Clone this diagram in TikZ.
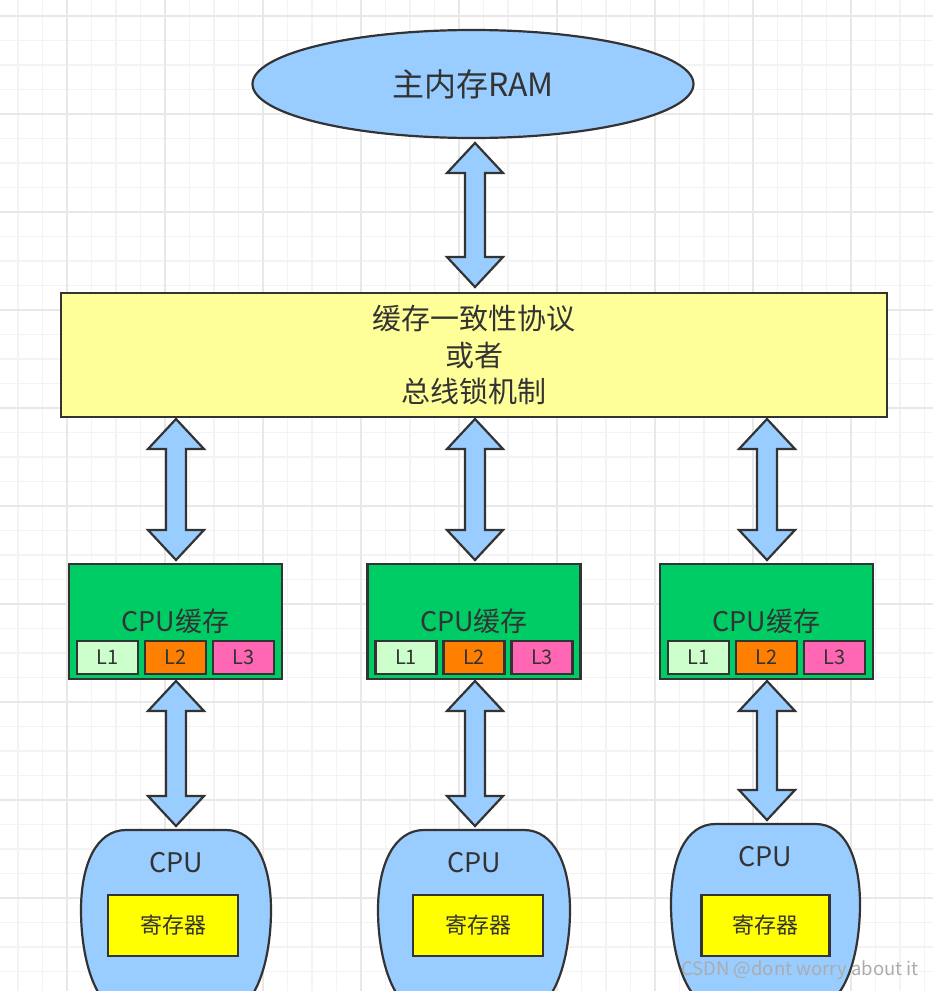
\documentclass[tikz,border=0pt]{standalone}
\usepackage{fontspec}
\setmainfont{Noto Sans CJK SC}
\usetikzlibrary{positioning,calc,shapes.geometric}

\definecolor{linec}{HTML}{333333}
\definecolor{textc}{HTML}{333333}
\definecolor{gridminor}{HTML}{F3F3F3}
\definecolor{gridmajor}{HTML}{E8E8E8}
\definecolor{ramblue}{HTML}{99CCFF}
\definecolor{protoyellow}{HTML}{FFFF99}
\definecolor{cachegreen}{HTML}{00CC66}
\definecolor{lone}{HTML}{CCFFCC}
\definecolor{ltwo}{HTML}{FF8000}
\definecolor{lthree}{HTML}{FF66B3}
\definecolor{regyellow}{HTML}{FFFF00}

\begin{document}
\begin{tikzpicture}[
	x=1pt, y=-1pt,
	gridline/.style={draw=gridminor, line width=1.2pt},
	gridbold/.style={draw=gridmajor, line width=1.4pt},
	ramnode/.style={ellipse, draw=linec, line width=2.2pt, fill=ramblue, inner sep=0pt, outer sep=0pt,
		minimum width=441pt, minimum height=108pt, text=textc, font=\fontsize{32}{38}\selectfont},
	protonode/.style={rectangle, draw=linec, line width=2.5pt, fill=protoyellow, outer sep=0pt,
		minimum width=826pt, minimum height=124pt, align=center, text=textc, font=\fontsize{29}{36.5}\selectfont},
	cachenode/.style={rectangle, draw=linec, line width=2.5pt, fill=cachegreen, outer sep=0pt,
		minimum width=213pt, minimum height=115pt, text=textc, font=\fontsize{27}{30}\selectfont},
	levelnode/.style={rectangle, draw=linec, line width=2.5pt, outer sep=0pt, inner sep=0pt,
		minimum width=61pt, minimum height=33pt, text=textc, font=\fontsize{20}{24}\selectfont},
	cpunode/.style={rectangle, draw=none, inner sep=0pt, outer sep=0pt, minimum width=190pt, minimum height=190pt},
	blob/.style={draw=linec, line width=2.2pt, fill=ramblue},
	cpulabel/.style={text=textc, inner sep=0pt, font=\fontsize{27}{32}\selectfont},
	regnode/.style={rectangle, draw=linec, line width=2.5pt, fill=regyellow, outer sep=0pt,
		minimum width=130pt, minimum height=61pt, text=textc, font=\fontsize{22}{25}\selectfont},
	fatarrow/.style={draw=linec, fill=ramblue, line width=2.2pt, line join=miter,
		to path={let \p1=(\tikztostart), \p2=(\tikztotarget) in
			(\x1,\y1) -- (\x1+28pt,\y1-30pt) -- (\x1+10pt,\y1-30pt) -- (\x1+10pt,\y2+30pt) -- (\x1+28pt,\y2+30pt)
			-- (\x1,\y2) -- (\x1-28pt,\y2+30pt) -- (\x1-10pt,\y2+30pt) -- (\x1-10pt,\y1-30pt) -- (\x1-28pt,\y1-30pt) -- cycle}},
	]
	\useasboundingbox (0,0) rectangle (933,991);
	\clip (0,0) rectangle (933,991);
	\fill[white] (0,0) rectangle (933,991);

	%Grid
	\foreach \gx in {18,42.5,...,933} {\draw[gridline] (\gx,0) -- (\gx,991);}
	\foreach \gy in {16,40.5,...,991} {\draw[gridline] (0,\gy) -- (933,\gy);}
	\foreach \gx in {67,165,...,933} {\draw[gridbold] (\gx,0) -- (\gx,991);}
	\foreach \gy in {16,114,...,991} {\draw[gridbold] (0,\gy) -- (933,\gy);}

	%Nodes
	\node[ramnode]      (ram)       at (473,84)      {主内存RAM};
	\node[protonode]    (proto)     at (474,355)     {缓存一致性协议\\或者\\总线锁机制};

	\node[cachenode]    (cache1)    at (175.5,621.5) {CPU缓存};
	\node[cachenode]    (cache2)    at (474,621.5)   {CPU缓存};
	\node[cachenode]    (cache3)    at (766.5,621.5) {CPU缓存};

	\node[levelnode, fill=ltwo, above=5pt of cache1.south]   (c1l2) {L2};
	\node[levelnode, fill=lone, left=7pt of c1l2]            (c1l1) {L1};
	\node[levelnode, fill=lthree, right=7pt of c1l2]         (c1l3) {L3};
	\node[levelnode, fill=ltwo, above=5pt of cache2.south]   (c2l2) {L2};
	\node[levelnode, fill=lone, left=7pt of c2l2]            (c2l1) {L1};
	\node[levelnode, fill=lthree, right=7pt of c2l2]         (c2l3) {L3};
	\node[levelnode, fill=ltwo, above=5pt of cache3.south]   (c3l2) {L2};
	\node[levelnode, fill=lone, left=7pt of c3l2]            (c3l1) {L1};
	\node[levelnode, fill=lthree, right=7pt of c3l2]         (c3l3) {L3};

	\node[cpunode]      (cpu1)      at (176,925)     {};
	\node[cpunode, minimum width=192pt] (cpu2) at (474,925) {};
	\node[cpunode, minimum width=189pt] (cpu3) at (765.5,919) {};

	%CPU bodies
	\draw[blob] ($(cpu1.north)+(-50,0)$) -- ($(cpu1.north)+(50,0)$) .. controls +(30,0) and +(0,-45) .. ($(cpu1.north east)+(0,80)$)
		.. controls +(0,50) and +(35,0) .. ($(cpu1.north)+(45,185)$) -- ($(cpu1.north)+(-45,185)$)
		.. controls +(-35,0) and +(0,50) .. ($(cpu1.north west)+(0,80)$)
		.. controls +(0,-45) and +(-30,0) .. ($(cpu1.north)+(-50,0)$) -- cycle;
	\draw[blob] ($(cpu2.north)+(-50,0)$) -- ($(cpu2.north)+(50,0)$) .. controls +(30,0) and +(0,-45) .. ($(cpu2.north east)+(0,80)$)
		.. controls +(0,50) and +(35,0) .. ($(cpu2.north)+(45,185)$) -- ($(cpu2.north)+(-45,185)$)
		.. controls +(-35,0) and +(0,50) .. ($(cpu2.north west)+(0,80)$)
		.. controls +(0,-45) and +(-30,0) .. ($(cpu2.north)+(-50,0)$) -- cycle;
	\draw[blob] ($(cpu3.north)+(-50,0)$) -- ($(cpu3.north)+(50,0)$) .. controls +(30,0) and +(0,-45) .. ($(cpu3.north east)+(0,80)$)
		.. controls +(0,50) and +(35,0) .. ($(cpu3.north)+(45,185)$) -- ($(cpu3.north)+(-45,185)$)
		.. controls +(-35,0) and +(0,50) .. ($(cpu3.north west)+(0,80)$)
		.. controls +(0,-45) and +(-30,0) .. ($(cpu3.north)+(-50,0)$) -- cycle;

	\node[cpulabel]     (cpu1text)  at ($(cpu1.north)+(0,33)$)    {CPU};
	\node[cpulabel]     (cpu2text)  at ($(cpu2.north)+(0,33)$)    {CPU};
	\node[cpulabel]     (cpu3text)  at ($(cpu3.north)+(0,33)$)    {CPU};
	\node[regnode]      (reg1)      at ($(cpu1.north)+(-3,95.5)$) {寄存器};
	\node[regnode]      (reg2)      at ($(cpu2.north)+(4,95.5)$)  {寄存器};
	\node[regnode, minimum width=128pt] (reg3) at ($(cpu3.north)+(0,101.5)$) {寄存器};

	%Arrows
	\draw[fatarrow] ($(ram.south)+(2,5)$) to ($(proto.north)+(1,-6)$);
	\draw[fatarrow] ($(proto.south -| cache1.north)+(0.5,2)$) to ($(cache1.north)+(0.5,-4)$);
	\draw[fatarrow] ($(proto.south -| cache2.north)+(1,2)$) to ($(cache2.north)+(1,-4)$);
	\draw[fatarrow] ($(proto.south -| cache3.north)+(0.5,2)$) to ($(cache3.north)+(0.5,-4)$);
	\draw[fatarrow] ($(cache1.south)+(0.5,2)$) to ($(cpu1.north)+(0,-4)$);
	\draw[fatarrow] ($(cache2.south)+(1,2)$) to ($(cpu2.north)+(1,-4)$);
	\draw[fatarrow] ($(cache3.south)+(0.5,2)$) to ($(cpu3.north)+(1.5,-4)$);

	%Watermark
	\node[text=gray!65, inner sep=0pt, font=\fontsize{18.5}{22}\selectfont] (mark) at (800,970) {CSDN @dont worry about it};
\end{tikzpicture}
\end{document}
